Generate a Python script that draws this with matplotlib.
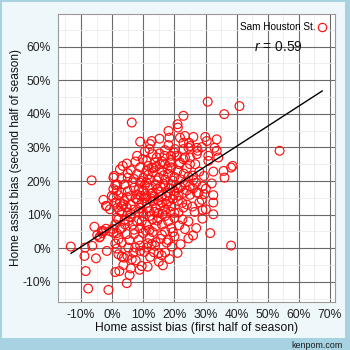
import numpy as np
import matplotlib
matplotlib.use("Agg")
import matplotlib.pyplot as plt
import matplotlib.patches as mpatches
import matplotlib.ticker as mtick
from matplotlib.lines import Line2D

plt.rcParams["font.family"] = ["Liberation Sans", "DejaVu Sans"]
plt.rcParams["mathtext.fontset"] = "custom"
plt.rcParams["mathtext.it"] = "Liberation Sans:italic"
plt.rcParams["mathtext.rm"] = "Liberation Sans"

# =============================================================================
# Data (percent)
# =============================================================================
team_name = "Sam Houston St."
r_value = 0.59

# outer / sparse points
pts_outer = [
    (6.3, 37.4), (9.0, 31.7), (12.2, 31.0), (12.7, 31.9), (15.2, 32.6), (18.1, 34.9),
    (18.4, 32.9), (18.1, 30.7), (9.8, 26.5), (3.4, 24.5), (4.7, 25.2), (5.0, 22.3),
    (0.6, 21.5), (15.2, 28.2), (14.3, 27.0), (16.8, 27.5), (18.9, 27.5),
    (30.7, 43.6), (36.0, 39.9), (40.9, 42.3), (22.9, 39.4), (53.8, 29.0), (21.0, 36.9),
    (21.8, 32.9), (23.4, 33.4), (26.1, 33.1), (29.9, 33.1), (30.4, 31.9), (33.6, 32.4),
    (32.9, 29.9), (24.7, 31.4), (25.0, 30.4), (27.5, 29.0), (28.8, 30.1), (30.9, 27.5),
    (33.6, 29.0), (30.9, 26.0), (34.1, 27.0), (38.2, 24.0), (38.7, 24.5), (32.5, 22.8),
    (35.8, 23.0), (21.1, 35.9), (23.4, 27.0), (25.0, 25.0), (26.7, 25.0), (21.5, 25.0),
    (26.1, 20.3), (25.0, 18.5), (27.2, 16.5), (27.7, 16.5), (28.8, 14.4), (29.6, 16.1),
    (30.1, 17.7), (32.0, 19.3), (32.5, 15.8), (32.5, 13.6), (32.5, 10.1), (29.0, 11.4),
    (30.1, 11.6), (25.8, 12.4), (25.0, 15.9), (22.6, 8.6), (23.4, 5.7), (24.5, 2.9),
    (31.5, 4.5), (38.2, 0.8), (36.1, 21.0), (21.3, 10.6), (21.1, 14.1), (22.9, 12.1),
    (21.3, 15.6), (23.4, 19.5),
    (-13.3, 0.5), (-6.6, 20.2), (-2.8, 14.4), (-2.0, 12.6), (-0.7, 11.6), (-5.7, 6.4),
    (-4.8, 3.9), (-4.1, 3.2), (-3.2, 4.5), (-2.8, 5.1), (-2.0, 5.8), (-0.7, 5.1),
    (-8.7, 0.2), (-8.9, -2.3), (-6.4, 0.7), (-5.2, -3.0), (-1.7, -0.8), (-8.5, -6.8),
    (-7.7, -12.0), (-1.2, -12.4), (1.0, -7.1), (2.3, -6.8), (4.7, -10.4), (6.0, -6.0),
    (9.5, -5.3), (11.4, -5.5), (16.3, -5.1),
    (0.4, 21.0), (1.0, 18.8), (1.5, 17.1), (2.0, 15.8), (0.4, 15.1), (1.0, 13.6),
    (1.7, 12.1), (2.5, 11.1), (1.5, 9.1), (1.0, 7.1), (0.2, 5.7), (1.5, 4.5),
    (1.0, 1.4), (1.5, -0.1), (2.0, -1.8), (3.1, -2.5), (3.8, -2.8), (4.9, -2.3),
    (6.3, -3.3), (6.8, -1.3), (5.2, 0.2), (7.4, 0.2), (9.0, -0.8), (10.3, -1.1),
    (11.1, 0.2), (12.7, 1.2), (13.8, 0.7), (14.9, -1.5), (15.9, -2.1), (17.0, -1.3),
    (17.5, 1.7), (19.2, 0.5),
    (1.7, 19.0), (0.4, 17.6), (-0.1, 15.6), (-1.7, 12.6), (2.5, 13.6), (3.6, 13.1),
    (4.7, 12.1), (3.1, 10.6), (-3.4, 5.1), (-3.9, 3.4), (0.4, 4.6), (2.5, 5.7),
    (4.1, 7.1), (5.2, 8.1), (2.0, 2.7), (3.1, 1.7), (4.7, 4.2),
    (20.2, 29.5), (22.9, 31.4), (22.9, 29.5), (24.5, 29.9), (27.2, 29.9), (20.8, 27.5),
    (22.9, 26.5), (25.0, 27.0), (27.2, 28.0), (13.8, 25.5), (15.4, 25.0), (17.0, 25.0),
    (18.6, 25.5), (21.8, 25.5), (11.6, 24.5), (12.7, 24.0),
]

# dense core
pts_core = [
    (8, 27.5), (11, 26), (13, 28), (16, 25.8), (17, 29.2), (19, 26.3), (20, 28.4),
    (12, 29.5), (7.5, 25.8), (10.5, 28.8),
    (5, 21), (6, 23.2), (7, 20.6), (8, 22.1), (9, 24.1), (10, 21), (11, 23), (12, 20.5),
    (13, 22.6), (14, 24.2), (15, 21), (16, 23), (17, 20.4), (18, 22.2), (19, 24.1),
    (20, 21.2), (21, 23.1), (22, 20.5), (23, 22.2), (24, 23.8), (26, 21.6), (28, 22.8),
    (3, 20.6), (9.5, 20), (14.5, 20.2), (19.5, 20.1), (11.5, 21.8), (16.5, 21.7),
    (24.5, 21.3), (2.5, 23.5), (29.5, 21.5), (13.2, 23.8), (17.8, 23.6),
    (3, 16.5), (4, 19), (5, 17), (6, 15.5), (7, 18), (8, 16), (9, 19.5), (10, 17),
    (11, 15.5), (12, 18), (13, 16.5), (14, 19), (15, 17), (16, 15.5), (17, 18.5),
    (18, 16.5), (19, 19), (20, 17), (21, 17.8), (22, 18.2), (23, 16.5), (24, 17.2),
    (26, 17.8), (27, 19.5), (29, 18.4), (6.5, 19.6), (8.5, 17.5), (10.5, 18.8),
    (12.5, 16.2), (14.5, 17.6), (16.5, 19.2), (18.5, 17.8), (20.5, 18.8), (11, 19.6),
    (15.5, 18.4), (13.5, 15.4), (9.2, 15.6), (17.5, 15.4), (19.8, 15.8), (4.8, 15.2),
    (3, 12.5), (4, 14), (5, 10.5), (6, 13), (7, 11.5), (8, 14.5), (9, 12), (10, 10.5),
    (11, 13.5), (12, 11), (13, 14), (14, 12), (15, 10.5), (16, 13.5), (17, 11.5),
    (18, 14), (19, 12.5), (20, 10.5), (22.5, 13.5), (24, 13), (26.5, 10.8), (28, 13.6),
    (7.5, 14.8), (9.5, 13.6), (11.5, 12), (13.5, 10.8), (15.5, 12.6), (17.5, 13.2),
    (19.5, 14.6), (12.5, 14.8), (14.8, 14.2), (10.5, 14.9), (6, 10.2), (16.2, 10.2),
    (18.8, 10.8), (8.5, 10.8),
    (2, 8.6), (3, 6), (4, 8.5), (6, 9.2), (7, 5.5), (8, 8), (9, 6), (10, 9.5), (11, 7),
    (12, 5.5), (13, 8.5), (14, 6.5), (15, 9), (16, 7), (17, 5), (18, 8), (19, 6),
    (20, 9), (21.5, 6.8), (24.5, 8), (27, 6), (29, 8.8), (9.5, 8), (12, 9.6),
    (14.5, 8.2), (6.5, 7), (17, 9.6), (10.8, 5.2),
    (5.5, 2.4), (7, 4.2), (8.5, 2.5), (10, 4.5), (12, 3), (14, 1.8), (16, 4), (18, 2.4),
    (20, 3.5), (22, 1.2), (26, 3.8), (9, 0.8), (13, 4.8), (15.5, 2.8), (11.5, 1.5),
    (19.5, 4.8),
    (3.6, -5), (7.6, -3.6), (12.2, -2.6), (15, -4), (18.4, -3.2), (21, -1.4),
    (8.8, -6.4), (13.4, -1.2), (5.6, -8),
]

first_half = [p[0] for p in pts_outer + pts_core]
second_half = [p[1] for p in pts_outer + pts_core]

# fitted line, endpoints
fit_x = [-13.2, 67.5]
fit_y = [-1.5, 46.8]

x_ticks = [-10, 0, 10, 20, 30, 40, 50, 60, 70]
y_ticks = [-10, 0, 10, 20, 30, 40, 50, 60]

# =============================================================================
# Plot
# =============================================================================
border_col = "#a7d2e2"
inner_col = "#eef7fa"

fig = plt.figure(figsize=(3.5, 3.5), dpi=100, facecolor=border_col)
fig.patches.append(mpatches.Rectangle((2 / 350, 12 / 350), 343 / 350, 336 / 350,
                                      transform=fig.transFigure, facecolor=inner_col,
                                      edgecolor="none", zorder=-5))

ax = fig.add_axes([58 / 350, 48 / 350, 277 / 350, 288 / 350])
ax.set_facecolor("white")

ax.scatter(first_half, second_half, s=40, facecolors="none", edgecolors="#ff1010",
           linewidths=0.85, zorder=3)
ax.plot(fit_x, fit_y, color="black", linewidth=1.0, zorder=4)

ax.set_xlim(-17.4, 71.6)
ax.set_ylim(-16.0, 69.7)
ax.set_xticks(x_ticks)
ax.set_yticks(y_ticks)
ax.xaxis.set_minor_locator(mtick.MultipleLocator(5))
ax.yaxis.set_minor_locator(mtick.MultipleLocator(5))
fmt = mtick.FuncFormatter(lambda v, _: f"{v:.0f}%")
ax.xaxis.set_major_formatter(fmt)
ax.yaxis.set_major_formatter(fmt)

ax.grid(True, which="major", color="#6a6a6a", linewidth=0.8, zorder=1)
ax.grid(True, which="minor", color="#ececec", linewidth=0.6, zorder=0)
ax.set_axisbelow(True)
ax.tick_params(which="both", length=0, labelsize=8.7, colors="#222222", pad=5)
for sp in ax.spines.values():
    sp.set_color("#9a9a9a")
    sp.set_linewidth(0.8)

ax.set_xlabel("Home assist bias (first half of season)", fontsize=8.7,
              color="#111111", labelpad=1)
ax.set_ylabel("Home assist bias (second half of season)", fontsize=8.6,
              color="#111111", labelpad=0.5)

# -- legend + r --
handle = Line2D([], [], marker="o", linestyle="none", markersize=6,
                markerfacecolor="none", markeredgecolor="#ff1010", markeredgewidth=0.85)
leg = ax.legend([handle], [team_name], loc="upper right", frameon=False,
                markerfirst=False, fontsize=7.2, handletextpad=0.1,
                borderaxespad=0.4, handlelength=1.0)
ax.text(0.795, 0.885, f"$r$ = {r_value:.2f}", transform=ax.transAxes,
        fontsize=10, ha="center", va="center", color="#111111")

fig.text(343 / 350, 5 / 350, "kenpom.com", fontsize=6.4, color="#1a1a1a",
         ha="right", va="center")

fig.savefig("out.png", dpi=100, facecolor=border_col)
